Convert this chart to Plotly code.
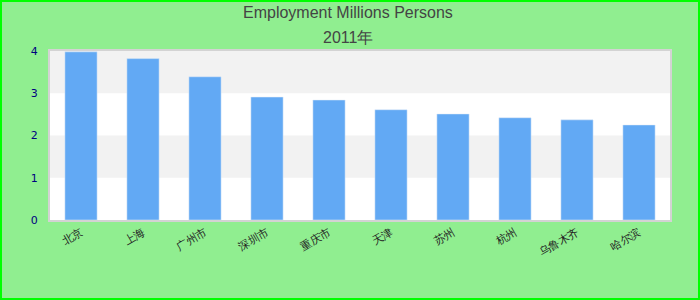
import plotly.graph_objects as go

categories = ["北京", "上海", "广州市", "深圳市", "重庆市", "天津", "苏州", "杭州", "乌鲁木齐", "哈尔滨"]
values = [3.98, 3.82, 3.39, 2.91, 2.84, 2.61, 2.51, 2.42, 2.37, 2.25]
y_ticks = [0, 1, 2, 3, 4]
title_lines = ["Employment Millions Persons", "2011年"]

W, H = 700, 300
L, R, T, B = 50, 30, 51, 80
pw, ph = W - L - R, H - T - B

fig = go.Figure(go.Bar(x=categories, y=values, marker_color="#62a9f4", width=0.52))

shapes = []
for lo in [1, 3]:
    shapes.append(dict(type="rect", xref="paper", yref="y", x0=0, x1=1, y0=lo, y1=lo + 1,
                       fillcolor="#f2f2f2", line_width=0, layer="below"))
# outer figure border
shapes.append(dict(type="rect", xref="paper", yref="paper",
                   x0=(-L + 1) / pw, x1=1 + (R - 1) / pw,
                   y0=(-B + 1) / ph, y1=1 + (T - 1) / ph,
                   line=dict(color="#00ff00", width=2), fillcolor="rgba(0,0,0,0)"))

annotations = []
for text, py in zip(title_lines, [13, 37]):
    annotations.append(dict(text=text, xref="paper", yref="paper",
                            x=(348 - L) / pw, y=1 + (T - py) / ph,
                            xanchor="center", yanchor="middle", showarrow=False,
                            font=dict(size=16, color="#444444",
                                      family="Liberation Sans, Arial, sans-serif")))

fig.update_layout(
    width=W, height=H,
    margin=dict(l=L, r=R, t=T, b=B),
    paper_bgcolor="#90ee90", plot_bgcolor="white",
    font=dict(family="DejaVu Sans, sans-serif"),
    shapes=shapes,
    annotations=annotations,
    showlegend=False,
)
fig.update_xaxes(showgrid=False, tickangle=-30, tickfont=dict(size=11, color="#222222"),
                 showline=True, linecolor="#d3d3d3", linewidth=2, mirror=True, ticks="")
fig.update_yaxes(range=[0, 4], tickvals=y_ticks, showgrid=False, zeroline=False,
                 tickfont=dict(size=11, color="#000080"),
                 showline=True, linecolor="#d3d3d3", linewidth=2, mirror=True, ticks="",
                 ticklabelstandoff=8)

fig.write_html("out.html")
